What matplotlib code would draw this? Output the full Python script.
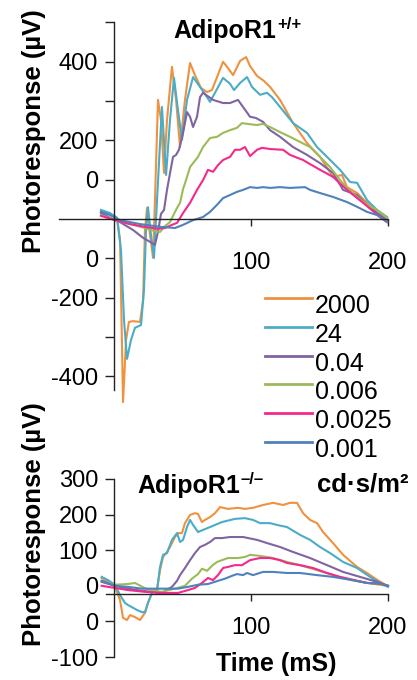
import matplotlib
matplotlib.use("Agg")
import matplotlib.pyplot as plt

plt.rcParams['font.family'] = ['Liberation Sans', 'DejaVu Sans']

# ---------------- data ----------------
labels = ['2000', '24', '0.04', '0.006', '0.0025', '0.001']
colors = ['#EE9240', '#4BACC6', '#8064A2', '#9BBB59', '#F5288C', '#4F81BD']

# AdipoR1 +/+  (time ms, response µV)
wt_2000_t = [-9.5, -2.9, 2.2, 4.4, 6.6, 8.8, 10.9, 13.9, 19, 21.2, 22.6, 24.1, 26.3, 28.5, 29.9, 32.1, 34.3, 36.5, 38.7, 42.3, 45.3, 48.2, 51.8, 55.5, 59.1, 63.5, 67.9, 71.5, 75.2, 79.6, 83.2, 86.9, 92, 96.4, 99.3, 104.4, 109.5, 113.9, 121.2, 130.7, 140.9, 150.4, 159.9, 166.4, 170.1, 177.4, 184.7, 192, 199.3]
wt_2000_v = [18, 13, 3, -53, -466, -308, -262, -260, -262, -206, -28, 28, -41, -99, 48, 303, 252, 117, 252, 387, 303, 183, 303, 397, 366, 333, 323, 328, 361, 400, 384, 366, 402, 412, 389, 364, 351, 336, 303, 244, 193, 158, 107, 112, 81, 66, 41, 15, 3]

wt_24_t = [-9.5, -2.9, 2.2, 5.1, 7.3, 9.5, 12.4, 15.3, 19.7, 21.9, 23.4, 24.8, 27, 29.2, 31.4, 35, 38, 40.9, 43.8, 46.7, 49.6, 53.3, 57.7, 62.8, 67.9, 70.1, 73.7, 79.6, 84.7, 87.6, 92, 97.1, 100.7, 106.6, 111.7, 115.3, 121.2, 130.7, 140.9, 148.2, 155.5, 165, 172.3, 177.4, 184.7, 192, 199.3]
wt_24_v = [23, 15, 3, -79, -257, -356, -308, -277, -270, -181, -28, 30, -41, -99, 48, 285, 112, 252, 359, 277, 201, 303, 361, 336, 310, 298, 321, 359, 344, 328, 346, 361, 336, 316, 321, 310, 285, 244, 219, 183, 158, 125, 94, 92, 48, 23, 5]

wt_004_t = [-9.5, -2.9, 4.4, 13.9, 21.2, 27.7, 29.9, 32.1, 34.3, 36.5, 38.7, 40.9, 43.1, 45.3, 47.4, 50.4, 53.3, 55.5, 57.7, 60.6, 62.8, 65, 72.3, 79.6, 84.7, 90.5, 94.2, 99.3, 103.6, 108.8, 113.9, 121.2, 130.7, 140.9, 150.4, 159.9, 167.2, 177.4, 184.7, 192, 199.3]
wt_004_v = [15, 3, -8, -28, -48, -61, -66, -33, 13, 23, 74, 117, 158, 163, 176, 219, 272, 260, 234, 260, 310, 321, 303, 295, 295, 303, 285, 260, 257, 247, 226, 209, 183, 163, 142, 117, 74, 61, 36, 15, -3]

wt_0006_t = [-9.5, 0.7, 11.7, 22.6, 29.9, 33.6, 37.2, 40.9, 43.8, 46, 48.2, 50.4, 52.6, 55.5, 57.7, 61.3, 65, 70.1, 75.2, 79.6, 84.7, 89.8, 93.4, 97.1, 104.4, 108.8, 113.9, 121.2, 128.5, 135.8, 143.1, 150.4, 157.7, 165, 170.1, 177.4, 184.7, 192, 199.3]
wt_0006_v = [10, -3, -13, -23, -31, -33, -18, -8, 13, 28, 41, 76, 99, 132, 142, 158, 183, 206, 209, 219, 226, 232, 244, 242, 239, 242, 234, 221, 209, 196, 183, 158, 132, 99, 79, 56, 36, 23, 3]

wt_00025_t = [-9.5, 0.7, 11.7, 22.6, 32.1, 37.2, 42.3, 46, 50.4, 55.5, 60.6, 65, 68.6, 72.3, 75.9, 79.6, 84.7, 88.3, 92, 95.6, 99.3, 104.4, 108, 113.9, 123.4, 128.5, 138, 150.4, 159.9, 170.1, 181.8, 194.2, 199.3]
wt_00025_v = [8, -3, -13, -20, -25, -23, -15, -10, 15, 41, 74, 99, 125, 120, 137, 150, 158, 176, 176, 183, 160, 176, 181, 178, 176, 163, 150, 125, 107, 74, 41, 5, -8]

wt_0001_t = [-9.5, -2.9, 4.4, 19, 33.6, 44.5, 50.4, 57.7, 65, 70.1, 75.2, 79.6, 84.7, 89.8, 94.2, 99.3, 104.4, 108.8, 113.9, 121.2, 128.5, 139.4, 143.1, 150.4, 159.9, 170.1, 177.4, 184.7, 192, 199.3]
wt_0001_v = [18, 10, -3, -13, -20, -23, -15, -3, 5, 18, 36, 53, 61, 69, 74, 81, 79, 81, 79, 81, 79, 81, 74, 66, 56, 43, 31, 18, 10, -8]

# AdipoR1 -/-
ko_2000_t = [-9, -4.4, 0.7, 4.4, 6.6, 9.5, 11.7, 15.3, 19, 22.6, 24.8, 27.7, 29.9, 31.4, 33.6, 35.8, 38.7, 40.9, 44.5, 46.7, 49.6, 51.8, 55.5, 59.1, 61.3, 64.2, 66.4, 70.1, 73.7, 77.4, 83.2, 90.5, 95.6, 101.5, 108.8, 116.1, 123.4, 128.5, 133.6, 138, 143.1, 148.2, 152.6, 159.9, 167.2, 177.4, 184.7, 192, 199.3]
ko_2000_v = [22, 11, -3, -40, -90, -96, -82, -88, -96, -76, -48, -20, -12, -12, 44, 81, 95, 109, 137, 148, 148, 176, 199, 204, 202, 179, 185, 193, 204, 221, 216, 219, 216, 219, 227, 233, 227, 233, 233, 204, 185, 176, 151, 120, 87, 53, 36, 17, 0]

ko_24_t = [-9, -4.4, 0.7, 4.4, 8, 10.2, 13.1, 16.8, 20.4, 22.6, 24.8, 27.7, 31.4, 33.6, 35.8, 38.7, 42.3, 46, 48.2, 50.4, 53.3, 55.5, 57.7, 61.3, 65, 70.1, 78.8, 88.3, 95.6, 101.5, 106.6, 113.9, 118.9, 126.3, 135.8, 143.1, 150.4, 157.7, 167.2, 177.4, 186.9, 194.2, 200]
ko_24_v = [25, 16, 3, -26, -48, -54, -60, -68, -74, -74, -48, -20, -12, 53, 87, 92, 129, 148, 123, 129, 165, 185, 171, 151, 157, 165, 179, 188, 190, 185, 176, 176, 171, 165, 143, 129, 109, 92, 67, 50, 25, 8, -3]

ko_004_t = [-9, 0.7, 10.2, 20.4, 28.5, 33.6, 37.2, 42.3, 46, 48.2, 51.8, 55.5, 59.1, 62.8, 66.4, 70.1, 73.7, 78.8, 84.7, 94.2, 104.4, 111.7, 121.2, 130.7, 143.1, 155.5, 167.2, 179.6, 192, 200]
ko_004_v = [11, 0, -8, -14, -17, -22, -14, -3, 14, 30, 50, 72, 92, 109, 115, 123, 134, 134, 137, 137, 129, 120, 109, 95, 78, 58, 39, 25, 11, 0]

ko_0006_t = [-9, 0.7, 10.2, 15.3, 24.8, 35, 44.5, 51.8, 56.9, 61.3, 64.2, 67.9, 71.5, 75.2, 78.8, 83.2, 90.5, 95.6, 99.3, 106.6, 116.1, 126.3, 135.8, 148.2, 159.9, 172.3, 184.7, 194.2, 200]
ko_0006_v = [14, 3, 5, 8, -11, -17, -8, 0, 20, 33, 48, 42, 56, 67, 72, 78, 78, 81, 87, 84, 78, 67, 58, 44, 30, 17, 8, 3, 0]

ko_00025_t = [-9, 0.7, 10.2, 22.6, 35, 46.7, 54, 59.1, 64.2, 68.6, 72.3, 75.9, 79.6, 83.2, 88.3, 93.4, 99.3, 106.6, 113.9, 121.2, 126.3, 135.8, 145.3, 155.5, 165, 174.5, 184.7, 194.2, 200]
ko_00025_v = [0, -6, -12, -17, -20, -20, -12, -6, 8, 22, 16, 30, 50, 53, 58, 58, 72, 78, 78, 72, 64, 58, 50, 36, 25, 17, 8, 6, 0]

ko_0001_t = [-9, 0.7, 10.2, 20.4, 29.9, 39.4, 46.7, 54, 61.3, 68.6, 75.9, 81, 86.1, 89.8, 94.2, 97.1, 101.5, 108.8, 116.1, 126.3, 135.8, 148.2, 159.9, 172.3, 184.7, 194.2, 200]
ko_0001_v = [14, 0, -3, -8, -8, -8, -8, -3, 3, 5, 14, 20, 28, 33, 30, 36, 30, 39, 39, 36, 36, 30, 25, 17, 8, 6, 0]

wt_series = [(wt_2000_t, wt_2000_v), (wt_24_t, wt_24_v), (wt_004_t, wt_004_v),
             (wt_0006_t, wt_0006_v), (wt_00025_t, wt_00025_v), (wt_0001_t, wt_0001_v)]
ko_series = [(ko_2000_t, ko_2000_v), (ko_24_t, ko_24_v), (ko_004_t, ko_004_v),
             (ko_0006_t, ko_0006_v), (ko_00025_t, ko_00025_v), (ko_0001_t, ko_0001_v)]

wt_yticks = [500, 400, 300, 200, 100, -100, -200, -300, -400]
wt_yticklabels = ['', '400', '', '200', '0', '0', '-200', '', '-400']
ko_yticks = [300, 200, 100, 0, -100, -200]
ko_yticklabels = ['300', '200', '100', '0', '0', '-100']
xticks = [100, 200]
xticklabels = ['100', '200']

# ---------------- figure ----------------
W, H = 417, 680
fig = plt.figure(figsize=(W / 100, H / 100), dpi=100)


def fx(px):
    return px / W


def fy(py):
    return 1 - py / H


LW = 1.5
TICKFS = 17

ax1 = fig.add_axes([fx(59.2), fy(407.6), (390.74 - 59.2) / W, (407.6 - 20.5) / H])
ax1.set_xlim(-40, 202)
ax1.set_ylim(-480, 505)
ax2 = fig.add_axes([fx(59.2), fy(667.7), (390.74 - 59.2) / W, (667.7 - 468.3) / H])
ax2.set_xlim(-40, 202)
ax2.set_ylim(-230, 330)

handles = []
for (t, v), c, lab in zip(wt_series, colors, labels):
    ln, = ax1.plot(t, v, color=c, lw=LW, label=lab, solid_joinstyle='round')
    handles.append(ln)
for (t, v), c in zip(ko_series, colors):
    ax2.plot(t, v, color=c, lw=LW, solid_joinstyle='round')

for ax in (ax1, ax2):
    ax.patch.set_alpha(0)
    ax.spines['top'].set_visible(False)
    ax.spines['right'].set_visible(False)
    ax.spines['left'].set_position(('data', 0))
    for s in ('left', 'bottom'):
        ax.spines[s].set_linewidth(1.0)
        ax.spines[s].set_color('#222222')
    ax.set_xticks(xticks)
    ax.set_xticklabels(xticklabels)
    ax.tick_params(axis='y', direction='out', length=6.5, width=1.0, pad=5,
                   labelsize=TICKFS, color='#222222')

ax1.spines['bottom'].set_position(('data', 0))
ax1.spines['bottom'].set_bounds(-40, 200)
ax1.spines['left'].set_bounds(-435, 500)
ax1.set_yticks(wt_yticks)
ax1.set_yticklabels(wt_yticklabels)
ax1.tick_params(axis='x', direction='out', length=5, width=1.0, pad=19,
                labelsize=TICKFS, color='#222222')

ax2.spines['bottom'].set_position(('data', -22))
ax2.spines['bottom'].set_bounds(-6, 200)
ax2.spines['left'].set_bounds(-200, 300)
ax2.set_yticks(ko_yticks)
ax2.set_yticklabels(ko_yticklabels)
ax2.tick_params(axis='x', direction='out', length=5, width=1.0, pad=12,
                labelsize=TICKFS, color='#222222')
ax2.yaxis.get_major_ticks()[3].tick1line.set_visible(False)

renderer = fig.canvas.get_renderer()


def title_with_sup(x_px, base_px, main, sup):
    t = fig.text(fx(x_px), fy(base_px), main, fontsize=18, fontweight='bold',
                 ha='left', va='baseline')
    bb = t.get_window_extent(renderer=renderer)
    fig.text(bb.x1 / W + fx(1), fy(base_px - 9), sup, fontsize=12,
             fontweight='bold', ha='left', va='baseline')


title_with_sup(173, 38, 'AdipoR1', '+/+')
title_with_sup(137, 493, 'AdipoR1', '\u2013/\u2013')

fig.text(fx(317), fy(492), 'cd·s/m²', fontsize=18.5, fontweight='bold',
         ha='left', va='baseline')
fig.text(fx(276), fy(671), 'Time (mS)', fontsize=18, fontweight='bold',
         ha='center', va='baseline')
fig.text(fx(34), fy(131), 'Photoresponse (µV)', fontsize=18.5, fontweight='bold',
         rotation=90, ha='center', va='center')
fig.text(fx(34), fy(524), 'Photoresponse (µV)', fontsize=18.5, fontweight='bold',
         rotation=90, ha='center', va='center')

# legend
LFS = 18
fpx = LFS * 100 / 72.0
leg = fig.legend(handles, labels, loc='upper left',
                 bbox_to_anchor=(fx(265), fy(283)), frameon=False,
                 fontsize=LFS, handlelength=47 / fpx, handletextpad=3 / fpx,
                 handleheight=2.37, labelspacing=-0.634, borderpad=0,
                 borderaxespad=0)
for l in leg.get_lines():
    l.set_linewidth(2.0)

fig.savefig('out.png', dpi=100)
